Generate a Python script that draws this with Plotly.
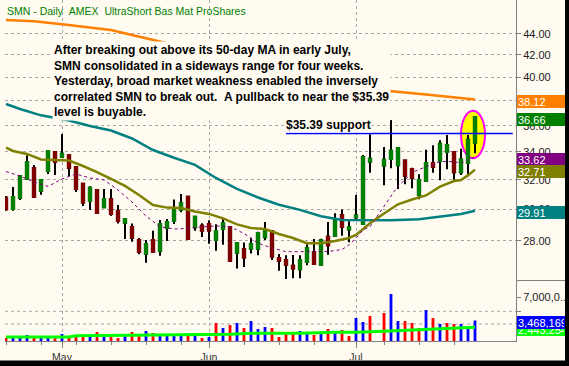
import math
import plotly.graph_objects as go

# ---------------- data ----------------
dates = [
    "2008-04-21", "2008-04-22", "2008-04-23", "2008-04-24", "2008-04-25", "2008-04-28", "2008-04-29", "2008-04-30",
    "2008-05-01", "2008-05-02", "2008-05-05", "2008-05-06", "2008-05-07", "2008-05-08", "2008-05-09", "2008-05-12",
    "2008-05-13", "2008-05-14", "2008-05-15", "2008-05-16", "2008-05-19", "2008-05-20", "2008-05-21", "2008-05-22",
    "2008-05-23", "2008-05-27", "2008-05-28", "2008-05-29", "2008-05-30",
    "2008-06-02", "2008-06-03", "2008-06-04", "2008-06-05", "2008-06-06", "2008-06-09", "2008-06-10", "2008-06-11",
    "2008-06-12", "2008-06-13", "2008-06-16", "2008-06-17", "2008-06-18", "2008-06-19", "2008-06-20", "2008-06-23",
    "2008-06-24", "2008-06-25", "2008-06-26", "2008-06-27", "2008-06-30",
    "2008-07-01", "2008-07-02", "2008-07-03", "2008-07-04", "2008-07-07", "2008-07-08", "2008-07-09", "2008-07-10",
    "2008-07-11", "2008-07-14", "2008-07-15", "2008-07-16", "2008-07-17", "2008-07-18", "2008-07-21", "2008-07-22",
    "2008-07-23", "2008-07-24",
]

open_ = [30.77, 30.02, 30.75, 32.05, 32.83, 31.24, 32.61, 33.99, 33.65, 33.75,
         32.90, 31.72, 30.55, 31.29, 30.13, 30.68, 29.89, 29.14, 28.87, 28.06,
         27.23, 28.06, 27.39, 28.80, 29.25, 29.96, 30.84, 28.85, 28.95, 29.06,
         28.06, 28.74, 28.87, 27.29, 27.50, 27.53, 27.53, 28.22, 28.61, 26.98,
         26.86, 26.53, 26.32, 26.74, 27.33, 26.59, 28.26, 28.32, 29.63, 28.70,
         29.48, 29.06, 33.28, None, 33.00, 33.48, 33.02, 33.36, 32.76, 30.95,
         31.93, 33.19, 33.33, 33.99, 33.99, 32.52, 33.21, 34.69]
high = [30.89, 31.50, 32.33, 33.75, 33.05, 32.05, 34.14, 34.07, 35.36, 33.80,
        32.95, 31.75, 31.54, 31.32, 31.36, 31.36, 30.28, 29.40, 29.08, 28.18,
        28.06, 28.63, 29.31, 29.37, 30.64, 31.02, 30.89, 29.57, 29.10, 29.29,
        29.04, 29.37, 28.90, 27.90, 27.90, 28.20, 28.57, 29.18, 28.64, 27.21,
        27.14, 27.16, 27.14, 27.80, 28.12, 28.14, 29.18, 29.74, 29.98, 29.23,
        30.95, 33.77, 35.33, None, 34.37, 36.45, 34.32, 33.40, 32.85, 32.38,
        34.16, 34.49, 34.87, 35.28, 34.02, 34.24, 35.28, 36.70]
low = [29.91, 29.91, 30.62, 32.00, 30.77, 30.97, 32.40, 32.33, 33.60, 32.26,
       31.15, 30.22, 29.96, 29.71, 30.09, 29.57, 29.08, 28.12, 27.95, 27.20,
       26.70, 27.29, 27.11, 28.00, 29.06, 29.81, 28.08, 28.63, 28.24, 27.83,
       27.41, 27.77, 26.76, 26.36, 26.45, 27.25, 27.14, 28.06, 26.86, 26.24,
       25.77, 25.81, 25.81, 26.55, 26.57, 26.53, 27.17, 28.28, 28.32, 27.92,
       29.25, 29.00, 32.49, None, 31.61, 32.81, 31.36, 31.68, 31.41, 30.66,
       31.90, 32.49, 31.96, 32.74, 32.00, 32.33, 32.38, 33.90]
close = [30.00, 30.82, 32.26, 33.26, 30.82, 31.98, 34.07, 33.26, 33.87, 32.85,
         31.36, 30.44, 31.45, 29.76, 30.68, 29.70, 29.25, 29.37, 28.20, 27.33,
         27.81, 27.33, 29.06, 29.18, 30.02, 30.42, 28.12, 29.52, 28.63, 28.65,
         28.61, 29.10, 26.80, 27.87, 27.00, 27.81, 28.49, 28.68, 27.06, 26.82,
         26.59, 26.36, 26.86, 27.57, 26.63, 28.04, 27.74, 29.37, 28.87, 28.85,
         29.59, 33.63, 33.50, None, 33.43, 34.09, 34.29, 32.28, 32.14, 31.98,
         33.19, 32.90, 34.61, 34.52, 32.52, 33.45, 34.92, 36.66]
volume = [810000, 810000, 810000, 1260000, 1110000, 810000, 960000, 1110000, 1420000, 810000,
          960000, 960000, 960000, 1720000, 1110000, 960000, 810000, 1420000, 1720000, 1110000,
          1870000, 1570000, 1420000, 1260000, 1420000, 1260000, 1260000, 1260000, 810000, 960000,
          3090000, 2330000, 2780000, 3090000, 2330000, 3390000, 2180000, 2480000, 2330000, 960000,
          1720000, 1570000, 1870000, 1420000, 1260000, 1420000, 2180000, 1870000, 2020000, 1110000,
          3850000, 3240000, 4160000, None, 4610000, 7500000, 3390000, 3390000, 3090000, 2330000,
          5070000, 3850000, 2940000, 3090000, 2940000, 2940000, 2480000, 3468169]

ma200_dates = ["2008-04-21", "2008-04-25", "2008-05-01", "2008-05-06", "2008-05-12", "2008-05-15", "2008-05-21",
               "2008-06-10", "2008-06-26", "2008-07-07", "2008-07-15", "2008-07-21", "2008-07-24"]
ma200_vals = [45.33, 45.20, 44.91, 44.67, 44.35, 43.87, 43.24, 41.27, 39.60, 38.87, 38.54, 38.30, 38.12]

ma50_dates = ["2008-04-21", "2008-04-23", "2008-04-28", "2008-05-02", "2008-05-07", "2008-05-12", "2008-05-15",
              "2008-05-20", "2008-05-23", "2008-05-29", "2008-06-03", "2008-06-06", "2008-06-11", "2008-06-16",
              "2008-06-19", "2008-06-24", "2008-06-27", "2008-07-02", "2008-07-08", "2008-07-14", "2008-07-18",
              "2008-07-22", "2008-07-24"]
ma50_vals = [37.74, 37.33, 36.82, 36.41, 35.97, 35.62, 35.01, 34.14, 33.57, 33.05, 32.12, 31.36, 30.78, 30.30,
             29.96, 29.55, 29.31, 29.31, 29.29, 29.35, 29.60, 29.70, 29.91]

ma20_dates = ["2008-04-21", "2008-04-22", "2008-04-24", "2008-04-28", "2008-04-30", "2008-05-02", "2008-05-06",
              "2008-05-08", "2008-05-12", "2008-05-14", "2008-05-16", "2008-05-20", "2008-05-22", "2008-05-27",
              "2008-05-29", "2008-06-02", "2008-06-04", "2008-06-06", "2008-06-10", "2008-06-12", "2008-06-16",
              "2008-06-18", "2008-06-20", "2008-06-24", "2008-06-26", "2008-06-30", "2008-07-01", "2008-07-02",
              "2008-07-03", "2008-07-07", "2008-07-09", "2008-07-11", "2008-07-15", "2008-07-17", "2008-07-21",
              "2008-07-22", "2008-07-23", "2008-07-24"]
ma20_vals = [34.31, 34.07, 33.85, 33.44, 33.41, 33.37, 32.97, 32.54, 32.05, 31.57, 30.95, 30.28, 30.11, 30.09,
             29.86, 29.70, 29.41, 29.03, 28.80, 28.74, 28.43, 28.18, 27.86, 27.86, 28.00, 28.18, 28.37, 28.74,
             29.10, 29.73, 30.33, 30.65, 30.92, 31.52, 31.91, 31.98, 32.30, 32.71]

ma10_dates = ["2008-04-21", "2008-04-23", "2008-04-25", "2008-04-29", "2008-05-01", "2008-05-05", "2008-05-07",
              "2008-05-09", "2008-05-13", "2008-05-15", "2008-05-19", "2008-05-21", "2008-05-23", "2008-05-28",
              "2008-05-30", "2008-06-03", "2008-06-05", "2008-06-09", "2008-06-11", "2008-06-13", "2008-06-17",
              "2008-06-19", "2008-06-23", "2008-06-25", "2008-06-27", "2008-06-30", "2008-07-01", "2008-07-02",
              "2008-07-03", "2008-07-07", "2008-07-08", "2008-07-09", "2008-07-10", "2008-07-11", "2008-07-15",
              "2008-07-17", "2008-07-21", "2008-07-22", "2008-07-23", "2008-07-24"]
ma10_vals = [32.58, 32.26, 31.84, 31.53, 32.05, 32.40, 32.12, 31.98, 31.29, 30.48, 29.57, 28.88, 28.74, 28.78,
             28.87, 28.93, 28.88, 28.46, 27.87, 27.57, 27.35, 27.35, 27.35, 27.36, 27.48, 27.76, 28.18, 28.68,
             28.88, 30.22, 30.92, 31.57, 31.98, 32.51, 32.92, 33.29, 33.29, 33.17, 33.41, 33.62]

volma_dates = ["2008-04-21", "2008-05-02", "2008-05-05", "2008-05-16", "2008-06-02", "2008-06-05", "2008-06-10",
               "2008-06-19", "2008-06-26", "2008-07-01", "2008-07-07", "2008-07-11", "2008-07-17", "2008-07-24"]
volma_vals = [960000, 970000, 1160000, 1200000, 1260000, 1370000, 1520000, 1520000, 1670000, 1670000,
              1830000, 2020000, 2220000, 2443254]

month_dates = ["2008-05-01", "2008-06-02", "2008-07-01"]
month_labels = ["May", "Jun", "Jul"]
week_dates = ["2008-04-21", "2008-04-28", "2008-05-05", "2008-05-12", "2008-05-19", "2008-05-27",
              "2008-06-09", "2008-06-16", "2008-06-23", "2008-07-07", "2008-07-14", "2008-07-21"]
price_ticks = [28, 30, 32, 34, 36, 38, 40, 42, 44]
vol_ticks = [2940000, 4870000, 7000000]
vol_tick_labels = ["", "", "7,000,0..."]
vol_grid = [2940000, 4870000]

support_level = 35.39
support_start = "2008-06-17"

title_text = "SMN - Daily\u00a0\u00a0AMEX\u00a0\u00a0UltraShort Bas Mat ProShares"
note_lines = [
    "After breaking out above its 50-day MA in early July,",
    "SMN consolidated in a sideways range for four weeks.",
    "Yesterday, broad market weakness enabled the inversely",
    "correlated SMN to break out.\u00a0\u00a0A pullback to near the $35.39",
    "level is buyable.",
]

# ---------------- styling / geometry ----------------
W, H = 569, 366
PL, PR, PT, PB = 5, 516, 0, 341          # plot area in pixels
BG = "#FFFBF0"
GRID = "#A8A8A8"
AXIS = "#808080"
FONT = "Arial, Liberation Sans, sans-serif"


def px_x(px):
    return (px - PL) / (PR - PL)


def px_y(py):
    return (PB - py) / (PB - PT)


idx = {d: i for i, d in enumerate(dates)}
xs = list(range(len(dates)))

body_hi = [None if o is None else max(o, c) for o, c in zip(open_, close)]
body_lo = [None if o is None else min(o, c) for o, c in zip(open_, close)]

vol_colors = []
prev = None
for o, c in zip(open_, close):
    if c is None:
        vol_colors.append("#0000FF")
        continue
    ref = prev if prev is not None else o
    vol_colors.append("#0000FF" if c >= ref else "#FF0000")
    prev = c

fig = go.Figure()

# wicks
fig.add_trace(go.Candlestick(
    x=xs, open=open_, high=high, low=low, close=close,
    increasing=dict(line=dict(color="#000000", width=2), fillcolor="#000000"),
    decreasing=dict(line=dict(color="#000000", width=2), fillcolor="#000000"),
    whiskerwidth=0, hoverinfo="skip", showlegend=False, xaxis="x", yaxis="y"))
# bodies
fig.add_trace(go.Candlestick(
    x=xs, open=open_, high=body_hi, low=body_lo, close=close,
    increasing=dict(line=dict(color="#008000", width=2), fillcolor="#008000"),
    decreasing=dict(line=dict(color="#800000", width=2), fillcolor="#800000"),
    whiskerwidth=0, hoverinfo="skip", showlegend=False, xaxis="x", yaxis="y"))


def line_trace(dd, vals, color, width, dash="solid", yaxis="y", xaxis="x"):
    return go.Scatter(x=[idx[d] for d in dd], y=vals, mode="lines",
                      line=dict(color=color, width=width, dash=dash),
                      hoverinfo="skip", showlegend=False, xaxis=xaxis, yaxis=yaxis)


fig.add_trace(line_trace(ma200_dates, ma200_vals, "#FF8000", 2.5))
fig.add_trace(line_trace(ma50_dates, ma50_vals, "#008080", 2.5))
fig.add_trace(line_trace(ma20_dates, ma20_vals, "#808000", 2.5))
fig.add_trace(line_trace(ma10_dates, ma10_vals, "#800080", 1, dash="3px,3px"))

# support line
fig.add_trace(go.Scatter(x=[idx[support_start], 72.4], y=[support_level, support_level], mode="lines",
                         line=dict(color="#0000FF", width=1.5), hoverinfo="skip", showlegend=False,
                         xaxis="x", yaxis="y"))

# volume
fig.add_trace(go.Bar(x=xs, y=volume, marker=dict(color=vol_colors, line=dict(width=0)), width=0.4,
                     hoverinfo="skip", showlegend=False, xaxis="x2", yaxis="y2"))
fig.add_trace(line_trace(volma_dates, volma_vals, "#00FF00", 3, yaxis="y2", xaxis="x2"))

last = len(dates) - 1
shapes = [
    # highlight ellipse around the breakout candle
    dict(type="circle", xref="x", yref="y", x0=last - 2.0, x1=last + 1.43, y0=33.53, y1=37.2,
         fillcolor="#FFFF00", line=dict(color="#FF00FF", width=2), layer="between"),
]
for v in vol_grid:
    shapes.append(dict(type="line", xref="paper", yref="y2", x0=0, x1=1, y0=v, y1=v,
                       line=dict(color=GRID, width=1, dash="dot"), layer="below"))
# panel separator in the axis area
shapes.append(dict(type="line", xref="paper", yref="paper", x0=1, x1=px_x(565), y0=px_y(280.5), y1=px_y(280.5),
                   line=dict(color=AXIS, width=1)))
# bottom thin line and black frame
shapes.append(dict(type="line", xref="paper", yref="paper", x0=px_x(0), x1=px_x(565), y0=px_y(360.5), y1=px_y(360.5),
                   line=dict(color=AXIS, width=1)))
shapes.append(dict(type="rect", xref="paper", yref="paper", x0=px_x(565), x1=px_x(570), y0=px_y(367), y1=px_y(-1),
                   fillcolor="#000000", line=dict(width=0), layer="above"))
shapes.append(dict(type="rect", xref="paper", yref="paper", x0=px_x(-1), x1=px_x(570), y0=px_y(367), y1=px_y(361),
                   fillcolor="#000000", line=dict(width=0), layer="above"))

annotations = [
    dict(text=title_text, xref="paper", yref="paper", x=px_x(5), y=px_y(11), xanchor="left", yanchor="middle",
         showarrow=False, font=dict(family=FONT, size=10.5, color="#008000")),
    dict(text="<br>".join(note_lines), xref="paper", yref="paper", x=px_x(52), y=px_y(41),
         xanchor="left", yanchor="top", align="left", showarrow=False, bgcolor=BG, borderpad=1,
         font=dict(family=FONT, size=12, color="#000000", weight="bold")),
    dict(text="$%.2f support" % support_level, xref="paper", yref="paper", x=px_x(285), y=px_y(125),
         xanchor="left", yanchor="middle", showarrow=False, bgcolor=BG, borderpad=0,
         font=dict(family=FONT, size=12, color="#000000", weight="bold")),
]

value_boxes = [
    (ma200_vals[-1], "#FF8000", "y"),
    (close[-1], "#008000", "y"),
    (ma10_vals[-1], "#800080", "y"),
    (ma20_vals[-1], "#808000", "y"),
    (ma50_vals[-1], "#008080", "y"),
]
for val, col, ax in value_boxes:
    annotations.append(dict(text="%.2f" % val, xref="paper", yref=ax, x=1, y=math.log10(val),
                            xanchor="left", yanchor="middle", xshift=1, yshift=-2, showarrow=False,
                            align="left", width=46, height=11, borderpad=1, borderwidth=0, bgcolor=col,
                            font=dict(family=FONT, size=11, color="#FFFFFF")))
for val, col in [(volma_vals[-1], "#00FF00"), (volume[-1], "#0000FF")]:
    annotations.append(dict(text="{:,}".format(val), xref="paper", yref="y2", x=1, y=val,
                            xanchor="left", yanchor="middle", xshift=1, yshift=-2, showarrow=False,
                            align="left", width=46, height=11, borderpad=1, borderwidth=0, bgcolor=col,
                            font=dict(family=FONT, size=11, color="#FFFFFF")))

price_dom0 = px_y(280)
vol_dom1 = px_y(281)
xrange = [(PL - 6) / 7.0, (PR - 6) / 7.0]

fig.update_layout(
    width=W, height=H,
    margin=dict(l=PL, r=W - PR, t=PT, b=H - PB, pad=0),
    paper_bgcolor=BG, plot_bgcolor=BG,
    font=dict(family=FONT, size=11, color="#202020"),
    showlegend=False, boxgap=0.55,
    xaxis=dict(domain=[0, 1], anchor="y", range=xrange, type="linear",
               tickvals=[idx[d] for d in month_dates], showticklabels=False, ticks="",
               showgrid=True, gridcolor=GRID, griddash="dot", gridwidth=1,
               zeroline=False, showline=False, rangeslider=dict(visible=False)),
    xaxis2=dict(domain=[0, 1], anchor="y2", range=xrange, type="linear", matches="x",
                tickvals=[idx[d] for d in month_dates], ticktext=month_labels,
                ticks="outside", ticklen=6, tickcolor=AXIS, tickwidth=1,
                tickfont=dict(family=FONT, size=10.5, color="#333333"),
                showgrid=True, gridcolor=GRID, griddash="dot", gridwidth=1,
                showline=True, linecolor=AXIS, linewidth=1, zeroline=False,
                minor=dict(tickmode="array", tickvals=[idx[d] for d in week_dates], ticks="outside",
                           ticklen=3, tickcolor=AXIS, showgrid=False),
                rangeslider=dict(visible=False)),
    yaxis=dict(domain=[price_dom0, 1], anchor="x", type="log", side="right",
               range=[math.log10(25.714), math.log10(47.35)],
               tickvals=price_ticks, ticktext=["%.2f" % t for t in price_ticks],
               ticks="outside", ticklen=4, tickcolor=AXIS,
               tickfont=dict(family=FONT, size=11, color="#202020"),
               showgrid=True, gridcolor=GRID, griddash="dot", gridwidth=1,
               showline=True, linecolor=AXIS, linewidth=1, zeroline=False),
    yaxis2=dict(domain=[0, vol_dom1], anchor="x2", side="right", range=[350000, 9480000],
                tickvals=vol_ticks, ticktext=vol_tick_labels,
                ticks="outside", ticklen=4, tickcolor=AXIS,
                tickfont=dict(family=FONT, size=11, color="#202020"),
                showgrid=False, showline=True, linecolor=AXIS, linewidth=1, zeroline=False),
    shapes=shapes,
    annotations=annotations,
)

fig.write_html("out.html", config={"displayModeBar": False},
               post_script="document.body.style.margin='0px';document.body.style.overflow='hidden';")
